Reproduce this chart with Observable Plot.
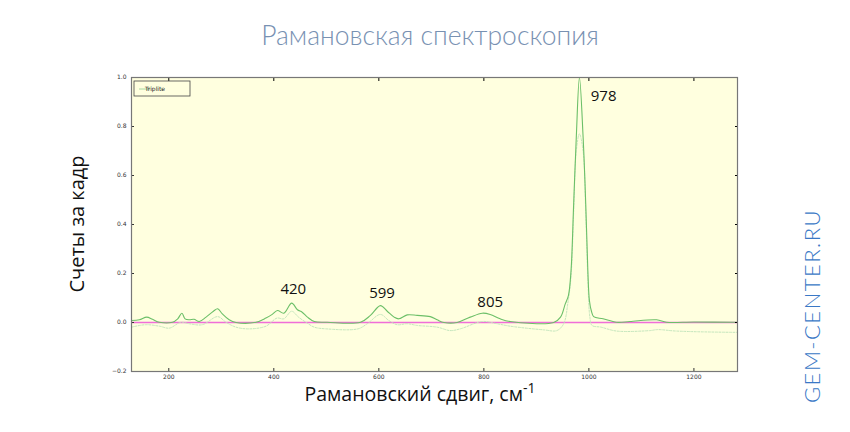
<!DOCTYPE html>
<html>
<head>
<meta charset="utf-8">
<script src="https://cdn.jsdelivr.net/npm/d3@7"></script>
<script src="https://cdn.jsdelivr.net/npm/@observablehq/plot@0.6"></script>
<style>
  html, body { margin: 0; padding: 0; background: #ffffff; }
</style>
</head>
<body>
<div id="chart"></div>
<script>
// Main spectrum (Triplite)
const mainShift = [129,144,158,169,182,207,217,225,231,239,248,258,271,285,293,302,315,328,366,385,397,407,419,434,445,454,464,477,502,565,584,603,616,629,638,654,673,698,711,724,749,774,797,812,831,850,933,946,955,961,966,971,976,982,989,994,998,1001,1005,1009,1027,1053,1078,1129,1148,1200,1283];
const mainCounts = [0.008,0.011,0.022,0.013,0.001,0.001,0.015,0.038,0.015,0.011,0.013,0.004,0.022,0.046,0.056,0.035,0.011,0.0,0.001,0.018,0.033,0.049,0.038,0.079,0.052,0.042,0.022,0.004,0.001,0.001,0.029,0.069,0.046,0.022,0.015,0.031,0.029,0.024,0.011,0.0,0.0,0.022,0.038,0.033,0.015,0.004,0.0,0.022,0.076,0.11,0.212,0.484,0.756,1.0,0.756,0.484,0.212,0.09,0.045,0.024,0.015,0.001,0.004,0.011,0.001,0.002,0.001];

// Secondary (lighter, dotted) spectrum
const refShift = [129,156,182,201,223,239,264,293,309,328,353,385,406,419,434,447,464,477,500,560,578,603,619,635,654,673,711,736,755,797,825,850,914,939,952,960,966,971,976,982,989,994,998,1002,1006,1023,1053,1116,1131,1167,1269,1283];
const refCounts = [-0.019,-0.009,-0.015,-0.023,0.001,-0.005,-0.009,0.024,0.001,-0.019,-0.026,-0.015,0.018,0.015,0.046,0.022,-0.003,-0.019,-0.026,-0.026,-0.005,0.033,0.008,-0.009,-0.005,-0.012,-0.019,-0.033,-0.026,0.004,-0.005,-0.015,-0.030,-0.033,-0.005,0.08,0.19,0.45,0.70,0.77,0.70,0.45,0.18,0.02,-0.012,-0.019,-0.035,-0.033,-0.029,-0.035,-0.04,-0.04];

// Peak annotations
const peakLabels = ["420","599","805","978"];
const peakX = [437,606,812,1028];
const peakY = [0.135,0.118,0.082,0.922];

const xTicks = [200,400,600,800,1000,1200];
const yTicks = [-0.2,0.0,0.2,0.4,0.6,0.8,1.0];
const xDomain = [129,1283];
const yDomain = [-0.2,1.0];

const mainData = mainShift.map((x,i)=>({x, y: mainCounts[i]}));
const refData = refShift.map((x,i)=>({x, y: refCounts[i]}));
const peaks = peakLabels.map((t,i)=>({t, x: peakX[i], y: peakY[i]}));

const svg = Plot.plot({
  width: 850,
  height: 432,
  marginLeft: 131,
  marginRight: 113,
  marginTop: 77,
  marginBottom: 61,
  style: {fontFamily: "DejaVu Sans", background: "#ffffff"},
  x: {domain: xDomain, axis: null},
  y: {domain: yDomain, axis: null},
  marks: [
    Plot.frame({fill: "#ffffdf", stroke: "none"}),
    Plot.ruleY([0], {stroke: "#f06ed8", strokeWidth: 1.3}),
    Plot.line(refData, {x: "x", y: "y", stroke: "#c4e6bd", strokeWidth: 1, strokeDasharray: "2,1.5", curve: "catmull-rom", clip: true}),
    Plot.line(mainData, {x: "x", y: "y", stroke: "#6cbf68", strokeWidth: 1.1, curve: "catmull-rom", clip: true}),
    Plot.text(peaks, {x: "x", y: "y", text: "t", fontSize: 15, fill: "#111", fontFamily: "Open Sans"}),
    Plot.axisX({anchor: "bottom", ticks: xTicks, tickSize: -3, tickPadding: 6, fontSize: 6, color: "#333", tickFormat: d => String(d), label: null}),
    Plot.axisX({anchor: "top", ticks: xTicks, tickSize: -3, tickFormat: () => "", label: null}),
    Plot.axisY({anchor: "left", ticks: yTicks, tickSize: -3, tickPadding: 8, fontSize: 6, color: "#333", tickFormat: d3.format(".1f"), label: null}),
    Plot.axisY({anchor: "right", ticks: yTicks, tickSize: -3, tickFormat: () => "", label: null}),
    Plot.frame({stroke: "#777", strokeWidth: 1.2})
  ]
});

const s = d3.select(svg);
// Title
s.append("text").attr("x", 430).attr("y", 45).attr("text-anchor", "middle")
  .attr("font-family", "Lato").attr("font-weight", 300).attr("font-size", 26.5)
  .attr("fill", "#7891b2").text("Рамановская спектроскопия");
// Y label
s.append("text").attr("transform", "translate(84,224) rotate(-90)").attr("text-anchor", "middle")
  .attr("font-family", "Open Sans").attr("font-size", 20).attr("fill", "#111").text("Счеты за кадр");
// X label
const xl = s.append("text").attr("x", 420).attr("y", 401).attr("text-anchor", "middle")
  .attr("font-family", "Open Sans").attr("font-size", 19.5).attr("fill", "#111");
xl.append("tspan").text("Рамановский сдвиг, см");
xl.append("tspan").attr("dy", -8).attr("font-size", 14).text("-1");
// Watermark
s.append("text").attr("transform", "translate(820,306) rotate(-90)").attr("text-anchor", "middle")
  .attr("font-family", "Lato").attr("font-weight", 300).attr("font-size", 22).attr("letter-spacing", 1.5)
  .attr("fill", "#3a78c6").text("GEM-CENTER.RU");
// Legend
const lg = s.append("g");
lg.append("rect").attr("x", 134).attr("y", 81).attr("width", 56).attr("height", 15)
  .attr("fill", "#ffffdf").attr("stroke", "#444").attr("stroke-width", 0.8);
lg.append("line").attr("x1", 139).attr("x2", 150).attr("y1", 89).attr("y2", 89)
  .attr("stroke", "#a8d8a2").attr("stroke-width", 1);
lg.append("text").attr("x", 155).attr("y", 90.5).attr("font-family", "DejaVu Sans").attr("font-size", 6)
  .attr("fill", "#222").text("Triplite");

document.getElementById("chart").appendChild(svg);
</script>
</body>
</html>
